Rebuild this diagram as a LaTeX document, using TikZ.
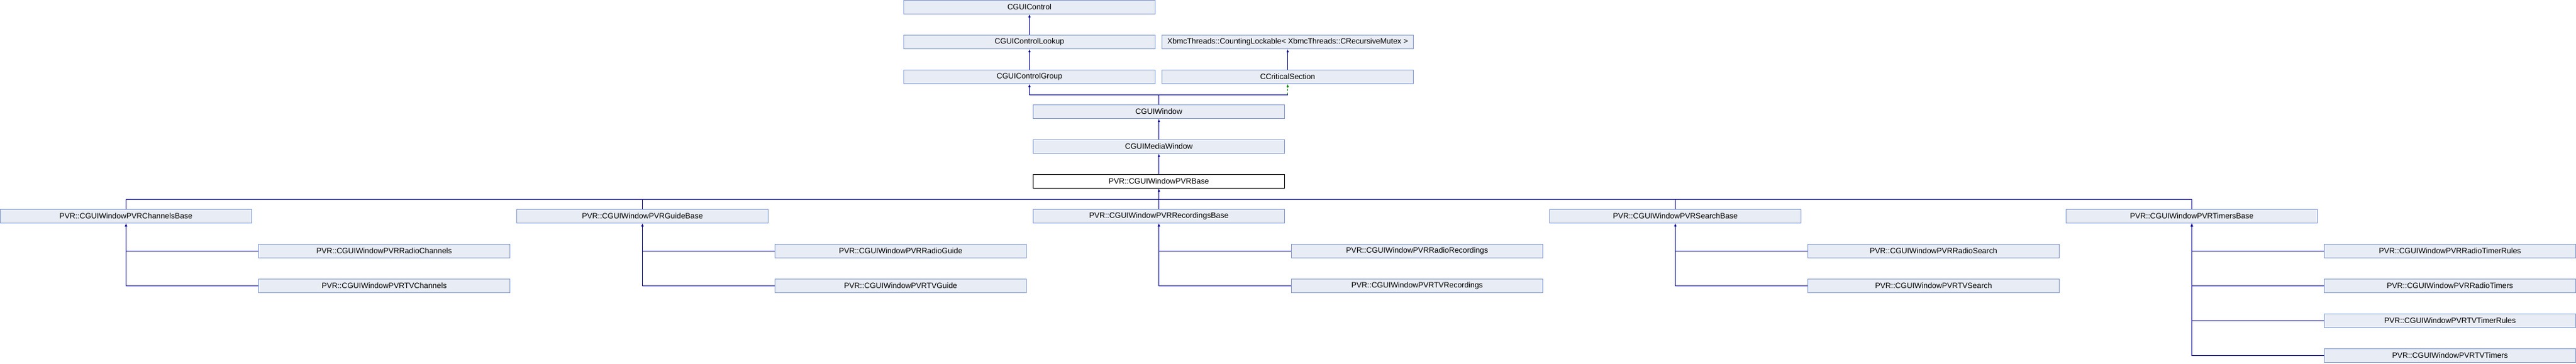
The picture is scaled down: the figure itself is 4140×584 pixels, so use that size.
\documentclass[tikz,border=0pt]{standalone}
\usepackage{fontspec}
\setmainfont{Liberation Sans}
\usepackage{tikz}
\usetikzlibrary{arrows.meta}
\usetikzlibrary{positioning}
\definecolor{boxfill}{RGB}{232,236,245}
\definecolor{boxline}{RGB}{128,152,208}
\definecolor{edge}{RGB}{0,0,140}
\definecolor{protedge}{RGB}{0,140,0}

\begin{document}
\begin{tikzpicture}[x=1pt,y=-1pt,node distance=56pt,line width=1pt,
  every node/.style={draw=boxline,fill=boxfill,minimum width=404pt,minimum height=22pt,inner sep=0pt,font=\fontsize{12.4}{14}\selectfont},
  inh/.style={draw=edge,-{Latex[length=5pt,width=4pt]}}]
  \useasboundingbox (0,0) rectangle (4140,584);
  % top of the tree
  \node (ctrl) at (1654.5,11.5) {CGUIControl};
  \node[below of=ctrl] (lookup) {CGUIControlLookup};
  \node[right of=lookup,node distance=415pt] (xbmc) {XbmcThreads::CountingLockable< XbmcThreads::CRecursiveMutex >};
  \node[below of=lookup] (group) {CGUIControlGroup};
  \node[below of=xbmc] (crit) {CCriticalSection};
  \node[below of=group,xshift=208pt] (window) {CGUIWindow};
  \node[below of=window] (media) {CGUIMediaWindow};
  \node[below of=media,draw=black,fill=white] (pvrbase) {PVR::CGUIWindowPVRBase};
  % base classes
  \node (chanbase) at (202.5,347.5) {PVR::CGUIWindowPVRChannelsBase};
  \node[right of=chanbase,node distance=830pt] (guidebase) {PVR::CGUIWindowPVRGuideBase};
  \node[right of=guidebase,node distance=830pt] (recbase) {PVR::CGUIWindowPVRRecordingsBase};
  \node[right of=recbase,node distance=830pt] (searchbase) {PVR::CGUIWindowPVRSearchBase};
  \node[right of=searchbase,node distance=830pt] (timerbase) {PVR::CGUIWindowPVRTimersBase};
  % leaves
  \node[below of=chanbase,xshift=415pt] (radiochan) {PVR::CGUIWindowPVRRadioChannels};
  \node[below of=radiochan] (tvchan) {PVR::CGUIWindowPVRTVChannels};
  \node[below of=guidebase,xshift=415pt] (radioguide) {PVR::CGUIWindowPVRRadioGuide};
  \node[below of=radioguide] (tvguide) {PVR::CGUIWindowPVRTVGuide};
  \node[below of=recbase,xshift=415pt] (radiorec) {PVR::CGUIWindowPVRRadioRecordings};
  \node[below of=radiorec] (tvrec) {PVR::CGUIWindowPVRTVRecordings};
  \node[below of=searchbase,xshift=415pt] (radiosearch) {PVR::CGUIWindowPVRRadioSearch};
  \node[below of=radiosearch] (tvsearch) {PVR::CGUIWindowPVRTVSearch};
  \node[below of=timerbase,xshift=415pt] (radiorules) {PVR::CGUIWindowPVRRadioTimerRules};
  \node[below of=radiorules] (radiotimers) {PVR::CGUIWindowPVRRadioTimers};
  \node[below of=radiotimers] (tvrules) {PVR::CGUIWindowPVRTVTimerRules};
  \node[below of=tvrules] (tvtimers) {PVR::CGUIWindowPVRTVTimers};
  \path (window.north) ++(0,-16) coordinate (wj);
  \path (pvrbase.south) ++(0,17) coordinate (bj);
  \draw[inh](lookup)--(ctrl);
  \draw[inh](group)--(lookup);
  \draw[inh](crit)--(xbmc);
  \draw[inh](window.north)--(wj)-|(group.south);
  \draw[draw=edge](wj)--(wj-|crit.south);
  \draw[inh,draw=protedge,dashed](wj-|crit.south)--(crit.south);
  \draw[inh](media)--(window);
  \draw[inh](pvrbase)--(media);
  \draw[inh](bj)--(pvrbase.south);
  \draw[draw=edge](chanbase.north)|-(bj);
  \draw[draw=edge](guidebase.north)|-(bj);
  \draw[draw=edge](recbase.north)--(bj);
  \draw[draw=edge](searchbase.north)|-(bj);
  \draw[draw=edge](timerbase.north)|-(bj);
  \draw[inh](radiochan.west)-|(chanbase.south);
  \draw[inh](tvchan.west)-|(chanbase.south);
  \draw[inh](radioguide.west)-|(guidebase.south);
  \draw[inh](tvguide.west)-|(guidebase.south);
  \draw[inh](radiorec.west)-|(recbase.south);
  \draw[inh](tvrec.west)-|(recbase.south);
  \draw[inh](radiosearch.west)-|(searchbase.south);
  \draw[inh](tvsearch.west)-|(searchbase.south);
  \draw[inh](radiorules.west)-|(timerbase.south);
  \draw[inh](radiotimers.west)-|(timerbase.south);
  \draw[inh](tvrules.west)-|(timerbase.south);
  \draw[inh](tvtimers.west)-|(timerbase.south);
\end{tikzpicture}
\end{document}
